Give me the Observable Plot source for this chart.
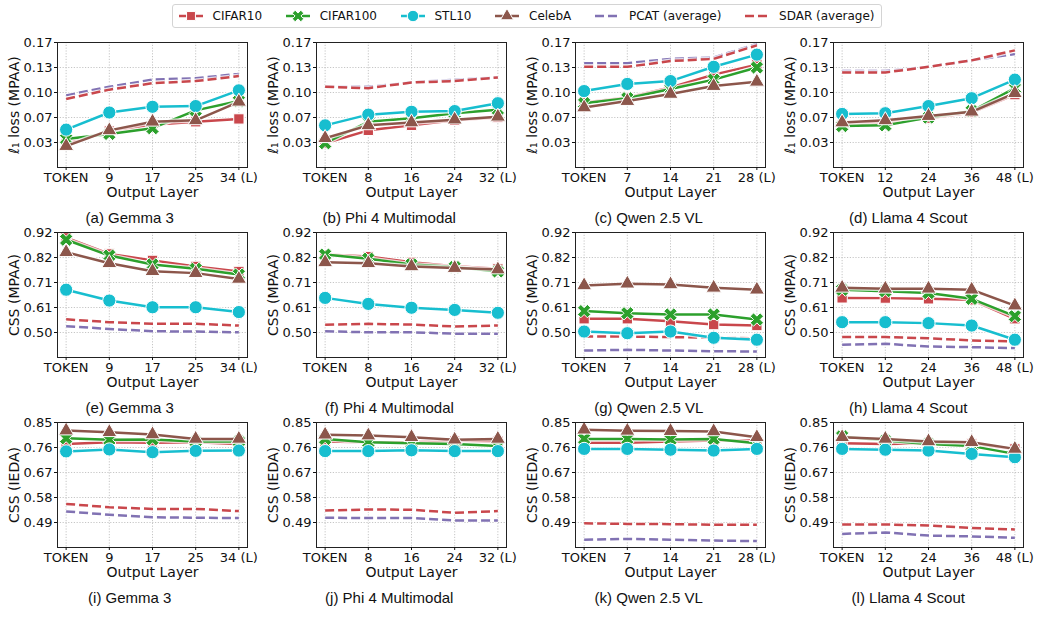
<!DOCTYPE html>
<html><head><meta charset="utf-8">
<script src="https://cdn.jsdelivr.net/npm/d3@7"></script>
<script src="https://cdn.jsdelivr.net/npm/@observablehq/plot@0.6"></script>
<style>
body{margin:0;background:#fff;}
#fig{position:relative;width:1038px;height:622px;overflow:hidden;font-family:"DejaVu Sans",sans-serif;background:#fff;}
.panel{position:absolute;}
.cap{position:absolute;font-family:"Liberation Sans",Arial,sans-serif;font-size:15px;transform:translate(-50%,-50%);white-space:nowrap;color:#111;}
#legend{position:absolute;left:172px;top:4px;height:24px;box-sizing:border-box;border:1px solid #d4d4d4;border-radius:3px;display:flex;align-items:center;padding:0 6px 0 6px;font-size:12px;color:#111;background:#fff;}
.li{display:flex;align-items:center;margin-right:24px;}
.li:last-child{margin-right:0;}
.li svg{margin-right:9.6px;display:block;}
</style>
</head><body>
<div id="fig"><div id="legend"></div></div>
<script>
// ---------- data ----------
const series = ["CIFAR10","CIFAR100","STL10","CelebA","PCAT (average)","SDAR (average)"];
const models = ["Gemma 3","Phi 4 Multimodal","Qwen 2.5 VL","Llama 4 Scout"];
const layerLabels = [
  ["TOKEN","9","17","25","34 (L)"],
  ["TOKEN","8","16","24","32 (L)"],
  ["TOKEN","7","14","21","28 (L)"],
  ["TOKEN","12","24","36","48 (L)"]
];
const xTitle = "Output Layer";
const metrics = ["\u2113\u2081 loss (MPAA)","CSS (MPAA)","CSS (IEDA)"];
const yDomains = [[-0.005,0.17],[0.40,0.92],[0.40,0.85]];
const yTicks = [
  [0.03,0.065,0.10,0.135,0.17],
  [0.504,0.608,0.712,0.816,0.92],
  [0.49,0.58,0.67,0.76,0.85]
];
const yTickLabels = [
  ["0.03","0.07","0.10","0.13","0.17"],
  ["0.50","0.61","0.71","0.82","0.92"],
  ["0.49","0.58","0.67","0.76","0.85"]
];
const captionLetters = ["a","b","c","d","e","f","g","h","i","j","k","l"];

// series order in each: CIFAR10, CIFAR100, STL10, CelebA, PCAT, SDAR
const l1_gemma = [
  [0.028,0.046,0.055,0.059,0.063],
  [0.035,0.042,0.050,0.075,0.088],
  [0.048,0.072,0.080,0.081,0.103],
  [0.025,0.047,0.059,0.061,0.087],
  [0.096,0.108,0.118,0.120,0.126],
  [0.091,0.104,0.113,0.116,0.123]];
const l1_phi = [
  [0.029,0.047,0.054,0.061,0.065],
  [0.029,0.059,0.064,0.071,0.076],
  [0.054,0.069,0.073,0.074,0.085],
  [0.036,0.054,0.058,0.062,0.066],
  [0.108,0.108,0.114,0.118,0.121],
  [0.108,0.106,0.114,0.116,0.121]];
const l1_qwen = [
  [0.086,0.093,0.107,0.125,0.139],
  [0.085,0.092,0.105,0.118,0.135],
  [0.102,0.112,0.116,0.136,0.153],
  [0.079,0.088,0.098,0.109,0.115],
  [0.141,0.141,0.147,0.149,0.168],
  [0.136,0.136,0.144,0.147,0.166]];
const l1_llama = [
  [0.055,0.058,0.064,0.072,0.097],
  [0.053,0.054,0.065,0.074,0.106],
  [0.070,0.071,0.081,0.092,0.118],
  [0.058,0.061,0.067,0.073,0.099],
  [0.130,0.130,0.136,0.145,0.154],
  [0.128,0.128,0.136,0.145,0.159]];
const cssM_gemma = [
  [0.898,0.831,0.804,0.779,0.758],
  [0.890,0.824,0.787,0.769,0.745],
  [0.682,0.637,0.609,0.609,0.589],
  [0.838,0.792,0.759,0.751,0.727],
  [0.530,0.519,0.509,0.508,0.505],
  [0.559,0.547,0.540,0.540,0.533]];
const cssM_phi = [
  [0.828,0.820,0.796,0.780,0.769],
  [0.828,0.811,0.787,0.776,0.758],
  [0.648,0.623,0.607,0.598,0.586],
  [0.796,0.792,0.779,0.772,0.766],
  [0.509,0.505,0.505,0.499,0.499],
  [0.536,0.540,0.537,0.529,0.533]];
const cssM_qwen = [
  [0.561,0.561,0.551,0.537,0.533],
  [0.593,0.584,0.579,0.579,0.558],
  [0.508,0.501,0.508,0.482,0.474],
  [0.700,0.707,0.704,0.690,0.682],
  [0.429,0.432,0.429,0.426,0.425],
  [0.487,0.487,0.485,0.482,0.480]];
const cssM_llama = [
  [0.648,0.647,0.644,0.640,0.561],
  [0.682,0.676,0.668,0.644,0.572],
  [0.547,0.547,0.543,0.533,0.474],
  [0.690,0.686,0.686,0.682,0.616],
  [0.453,0.457,0.446,0.443,0.439],
  [0.485,0.485,0.480,0.471,0.467]];
const cssI_gemma = [
  [0.773,0.779,0.777,0.779,0.773],
  [0.793,0.788,0.789,0.782,0.782],
  [0.746,0.753,0.743,0.748,0.749],
  [0.821,0.815,0.807,0.791,0.791],
  [0.530,0.518,0.509,0.507,0.506],
  [0.557,0.545,0.539,0.539,0.531]];
const cssI_phi = [
  [0.782,0.779,0.779,0.783,0.783],
  [0.791,0.779,0.775,0.773,0.765],
  [0.747,0.747,0.750,0.747,0.747],
  [0.806,0.803,0.797,0.788,0.791],
  [0.507,0.506,0.506,0.497,0.497],
  [0.533,0.537,0.536,0.525,0.531]];
const cssI_qwen = [
  [0.777,0.777,0.782,0.785,0.785],
  [0.791,0.791,0.789,0.791,0.775],
  [0.755,0.755,0.752,0.749,0.755],
  [0.824,0.820,0.819,0.818,0.797],
  [0.428,0.431,0.428,0.425,0.423],
  [0.487,0.485,0.484,0.482,0.482]];
const cssI_llama = [
  [0.775,0.773,0.775,0.773,0.755],
  [0.800,0.785,0.773,0.765,0.737],
  [0.755,0.752,0.749,0.737,0.725],
  [0.797,0.791,0.782,0.779,0.755],
  [0.449,0.454,0.443,0.440,0.435],
  [0.483,0.483,0.479,0.470,0.465]];

const data = [
  [l1_gemma, l1_phi, l1_qwen, l1_llama],
  [cssM_gemma, cssM_phi, cssM_qwen, cssM_llama],
  [cssI_gemma, cssI_phi, cssI_qwen, cssI_llama]
];

// ---------- styles ----------
const colors = ["#c9474c","#2ca02c","#17becf","#8c564b","#8172b3","#c9474c"];
const symbolX = {
  draw(ctx, size) {
    const r = Math.sqrt(size) * 0.62, w = r * 0.34, c = Math.SQRT1_2;
    const pts = [[-w,-r],[w,-r],[w,-w],[r,-w],[r,w],[w,w],[w,r],[-w,r],[-w,w],[-r,w],[-r,-w],[-w,-w]];
    pts.forEach(([x,y],k) => { const X=(x-y)*c, Y=(x+y)*c; k ? ctx.lineTo(X,Y) : ctx.moveTo(X,Y); });
    ctx.closePath();
  }
};
const symbols = [d3.symbolSquare, symbolX, d3.symbolCircle, d3.symbolTriangle, null, null];
const radii = [5.8, 6.4, 6.6, 5.6, 0, 0];
const dashed = [false,false,false,false,true,true];
const drawOrder = [4,5,0,1,2,3];

// ---------- layout ----------
const plotW = 190, plotH = 125;
const colLeft = c => 57 + c * 258.8;
const rowTop = r => 42 + r * 190;
const mL = 57, mR = 12, mT = 10, mB = 45;
const fig = document.getElementById("fig");

function makePanel(row, col) {
  const vals = data[row][col];
  const grid = {stroke:"#b8b8b8", strokeOpacity:1, strokeWidth:0.8, strokeDasharray:"1.2,1.6"};
  const marks = [
    Plot.gridX([0,1,2,3,4], grid),
    Plot.gridY(yTicks[row], grid)
  ];
  for (const s of drawOrder) {
    const pts = vals[s].map((v, i) => ({i, v}));
    const dash = dashed[s] ? "9,4" : null;
    marks.push(Plot.line(pts, {x:"i", y:"v", stroke:"white", strokeOpacity:0.75, strokeWidth:5, strokeDasharray:dash, strokeLinecap:"butt"}));
    marks.push(Plot.line(pts, {x:"i", y:"v", stroke:colors[s], strokeWidth:2.5, strokeDasharray:dash, strokeLinecap:"butt"}));
    if (symbols[s]) {
      marks.push(Plot.dot(pts, {x:"i", y:"v", symbol:symbols[s], r:radii[s], fill:colors[s], stroke:"white", strokeWidth:1}));
    }
  }
  marks.push(Plot.frame({stroke:"#222", strokeWidth:1}));
  marks.push(Plot.axisX([0,1,2,3,4], {
    tickSize:3, tickPadding:2, fontSize:13,
    tickFormat: d => layerLabels[col][d], label:null
  }));
  marks.push(Plot.axisY(yTicks[row], {
    tickSize:3, tickPadding:2, fontSize:13,
    tickFormat: d => yTickLabels[row][yTicks[row].indexOf(d)], label:null
  }));
  marks.push(Plot.text([xTitle], {text: d => d, frameAnchor:"bottom", dy:25, lineAnchor:"middle", fontSize:14, fill:"#111"}));
  marks.push(Plot.text([metrics[row]], {text: d => d, frameAnchor:"left", dx:-43, rotate:-90, lineAnchor:"middle", textAnchor:"middle", fontSize:14, fill:"#111"}));
  const svg = Plot.plot({
    width: mL + plotW + mR, height: mT + plotH + mB,
    marginLeft: mL, marginRight: mR, marginTop: mT, marginBottom: mB,
    style: {fontFamily:"'DejaVu Sans', sans-serif", fontSize:"13px", background:"transparent", overflow:"visible", color:"#111"},
    x: {domain:[-0.2, 4.2]},
    y: {domain: yDomains[row]},
    marks
  });
  svg.classList.add("panel");
  svg.style.left = (colLeft(col) - mL) + "px";
  svg.style.top = (rowTop(row) - mT) + "px";
  fig.appendChild(svg);

  const cap = document.createElement("div");
  cap.className = "cap";
  cap.textContent = `(${captionLetters[row*4+col]}) ${models[col]}`;
  cap.style.left = ((col + 0.5) * 1038 / 4) + "px";
  cap.style.top = (rowTop(row) + plotH + 50) + "px";
  fig.appendChild(cap);
}
for (let r = 0; r < 3; r++) for (let c = 0; c < 4; c++) makePanel(r, c);

// ---------- legend ----------
const legend = d3.select("#legend");
series.forEach((name, s) => {
  const item = legend.append("div").attr("class","li");
  const sv = item.append("svg").attr("width",24).attr("height",14);
  sv.append("line").attr("x1",0).attr("x2",24).attr("y1",7).attr("y2",7)
    .attr("stroke",colors[s]).attr("stroke-width",2.5).attr("stroke-dasharray", dashed[s] ? "9,4" : null);
  if (symbols[s]) {
    sv.append("path").attr("transform","translate(12,7)")
      .attr("d", d3.symbol(symbols[s], Math.PI * radii[s] * radii[s] * 0.75)())
      .attr("fill", colors[s]).attr("stroke","white").attr("stroke-width",1);
  }
  item.append("span").text(name);
});
</script>
</body></html>
